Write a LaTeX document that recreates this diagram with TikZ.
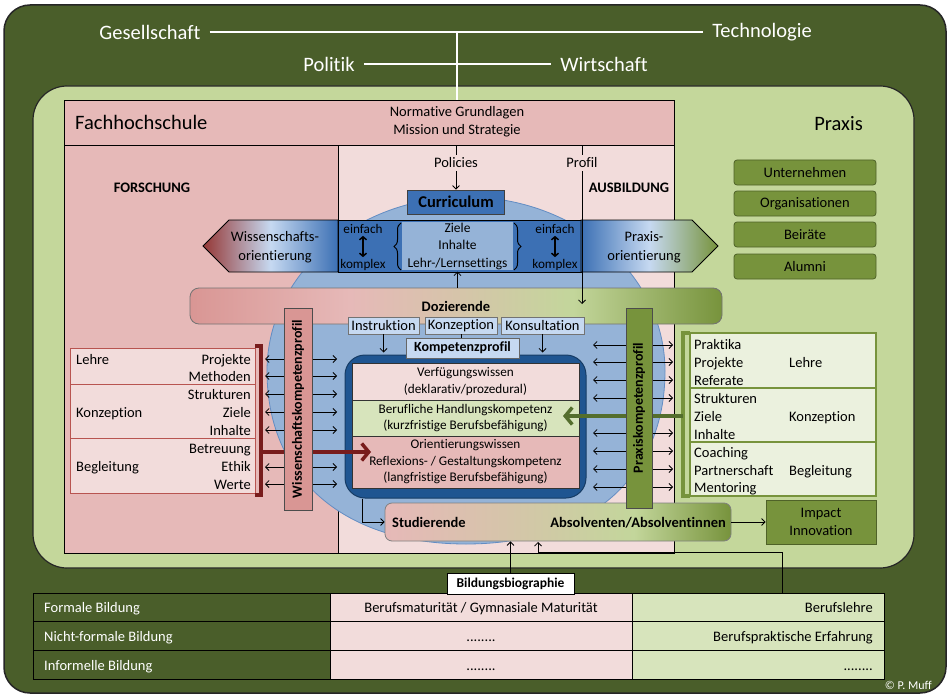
\documentclass[tikz,border=0pt]{standalone}
\usepackage{fontspec}
\setmainfont{Carlito}[Ligatures=NoCommon]
\usetikzlibrary{arrows.meta,decorations.pathreplacing,shadings}

\definecolor{bgdark}{RGB}{74,94,42}
\definecolor{bgpraxis}{RGB}{196,215,155}
\definecolor{rosa}{RGB}{230,185,184}
\definecolor{rosalt}{RGB}{242,220,219}
\definecolor{rosadk}{RGB}{217,150,148}
\definecolor{weinrot}{RGB}{149,55,53}
\definecolor{arrowred}{RGB}{120,28,28}
\definecolor{tablered}{RGB}{184,84,80}
\definecolor{blault}{RGB}{149,179,215}
\definecolor{blauxl}{RGB}{198,217,241}
\definecolor{blaum}{RGB}{60,112,180}
\definecolor{blaudk}{RGB}{31,85,145}
\definecolor{gruenm}{RGB}{119,147,60}
\definecolor{gruendk}{RGB}{79,98,40}
\definecolor{gruenarrow}{RGB}{84,110,45}
\definecolor{gruenl}{RGB}{215,228,188}
\definecolor{gruenxl}{RGB}{235,241,222}
\definecolor{gruens}{RGB}{195,214,155}
\definecolor{sand}{RGB}{214,196,170}

% colour runs of the two long bars (stops between 25bp and 75bp cover the bar)
\pgfdeclarehorizontalshading{dozshade}{100bp}{color(0bp)=(rosadk); color(25bp)=(rosadk); color(40bp)=(rosa); color(50bp)=(sand); color(61bp)=(gruens); color(75bp)=(gruenm); color(100bp)=(gruenm)}
\pgfdeclarehorizontalshading{studshade}{100bp}{color(0bp)=(rosa); color(25bp)=(rosa); color(42bp)=(sand); color(61bp)=(gruens); color(75bp)=(gruenm); color(100bp)=(gruenm)}

\newcommand\fsA{\fontsize{14.5}{18}\selectfont}
\newcommand\fsB{\fontsize{13.2}{16.5}\selectfont}
\newcommand\fsL{\fontsize{20.5}{24}\selectfont}
\newcommand\fsS{\fontsize{12}{14}\selectfont}

\begin{document}
\begin{tikzpicture}[x=1pt,y=-1pt,
  lbl/.style={inner sep=0pt, font=\fsA},
  lblb/.style={inner sep=0pt, font=\fsA\bfseries},
  big/.style={inner sep=0pt, font=\fsL},
  toplbl/.style={inner xsep=9pt, inner ysep=0pt, font=\fsL, text=white},
  frame/.style={draw=black, line width=0.9pt, inner sep=0pt},
  arr/.style={-{Straight Barb[length=3.5pt,width=7pt]}, line width=0.8pt},
  dbl/.style={{Straight Barb[length=3.5pt,width=7pt]}-{Straight Barb[length=3.5pt,width=7pt]}, line width=0.8pt},
  updown/.style={{Straight Barb[length=3pt,width=7pt]}-{Straight Barb[length=3pt,width=7pt]}, line width=1.5pt},
  curly/.style={decorate, decoration={brace, amplitude=7pt}, line width=1pt},
  ibox/.style={draw=black!55, line width=0.7pt, fill=blauxl, minimum height=17, inner sep=0pt, font=\fsA},
  kompzeile/.style={draw=black!80, line width=0.9pt, minimum width=227, inner sep=0pt, align=center, font=\fsB},
  ltab/.style={draw=tablered, fill=rosalt, line width=1pt, minimum width=185, inner sep=0pt},
  rtab/.style={draw=gruenm, fill=gruenxl, line width=1.2pt, minimum width=186, inner sep=0pt},
  praxisbox/.style={draw=gruendk, fill=gruenm, rounded corners=3pt, line width=0.8pt, minimum width=142, minimum height=25, inner sep=0pt, font=\fsA},
  profilbar/.style={rotate=90, draw=black!70, line width=0.8pt, inner sep=0pt, font=\fontsize{14}{17}\selectfont\bfseries},
  thickarrow/.style={line width=3.5pt, -{Straight Barb[length=7pt,width=17pt]}},
  cell/.style={draw=black, line width=1pt, inner sep=0pt, font=\fsA},
]
\useasboundingbox (0,0) rectangle (949,695);
\fill[white] (0,0) rectangle (949,695);

% outer frame: society and economy
\draw[fill=bgdark, draw=black!85, line width=1.5pt, rounded corners=26pt] (4,5) rectangle (946,693);
\node[toplbl] (ges) at (150,32) {Gesellschaft};
\node[toplbl] (tech) at (762,32) {Technologie};
\node[toplbl] (pol) at (329,64) {Politik};
\node[toplbl] (wirt) at (604,64) {Wirtschaft};
\draw[white, line width=1.2pt] (ges) -- (tech);
\draw[white, line width=1.2pt] (pol) -- (wirt);
\coordinate (hub) at (457,32);

% practice field
\draw[fill=bgpraxis, draw=black!85, line width=1.2pt, rounded corners=34pt] (33,86) rectangle (914,568);

% university
\node[frame, fill=rosa, anchor=north west, minimum width=610, minimum height=45] (fhhead) at (64,100) {};
\node[frame, fill=rosa, anchor=north west, minimum width=274, minimum height=408] (forsch) at (64,145) {};
\node[frame, fill=rosalt, anchor=north west, minimum width=336, minimum height=408] (ausb) at (338,145) {};
\draw[white, line width=1.2pt] (hub) -- (hub |- fhhead.north);

\node[big, anchor=west] (fh) at (75,122) {Fachhochschule};
\node[lbl, align=center] (norm) at (457,122) {Normative Grundlagen\\Mission und Strategie};
\node[lblb] (forschtxt) at (152,188) {FORSCHUNG};
\node[lblb] (ausbtxt) at (629,188) {AUSBILDUNG};
\node[lbl, inner sep=3pt] (policies) at (456,163) {Policies};
\node[lbl, inner sep=3pt] (profil) at (582,163) {Profil};
\draw[line width=0.8pt] (fhhead.south -| policies) -- (policies.north);
\draw[line width=0.8pt] (fhhead.south -| profil) -- (profil.north);

% teaching sphere: round top, flatter bottom
\draw[fill=blault, draw=blaum!80, line width=0.8pt]
  (267,371) .. controls (267,275) and (356,197) .. (466,197)
            .. controls (576,197) and (665,275) .. (665,371)
            .. controls (665,478) and (588,544) .. (466,544)
            .. controls (344,544) and (267,478) .. (267,371) -- cycle;

\node[draw=black!75, line width=0.8pt, fill=blaum, minimum width=97, minimum height=24, inner sep=0pt,
      font=\fontsize{16.5}{20}\selectfont\bfseries] (curr) at (456,202) {Curriculum};
\draw[arr] (policies) -- (curr);

% orientation banner
\shadedraw[left color=weinrot, right color=blaum, middle color=blauxl, draw=black, line width=0.9pt]
  (338,220) -- (229,220) -- (203,246) -- (229,272) -- (338,272) -- cycle;
\node[lbl, align=center, font=\fontsize{14.5}{19}\selectfont] (wo) at (275,247) {Wissenschafts-\\orientierung};
\draw[fill=blaum, draw=black, line width=0.9pt] (338,220) rectangle (581,272);
\node[fill=blault, minimum width=111, minimum height=48, inner sep=0pt, align=center,
      font=\fontsize{13.5}{17.5}\selectfont] (zil) at (457.5,246) {Ziele\\Inhalte\\Lehr-/Lernsettings};
\draw[curly] (401,270) -- (401,223);
\draw[curly] (514,223) -- (514,270);
\node[font=\fsB, inner sep=2pt] (ef1) at (363,229) {einfach};
\node[font=\fsB, inner sep=2pt] (ko1) at (363,265) {komplex};
\draw[updown] (ef1) -- (ko1);
\node[font=\fsB, inner sep=2pt] (ef2) at (555,229) {einfach};
\node[font=\fsB, inner sep=2pt] (ko2) at (555,265) {komplex};
\draw[updown] (ef2) -- (ko2);
\shadedraw[left color=blaum, right color=gruenm, middle color=blauxl, draw=black, line width=0.9pt]
  (581,220) -- (692,220) -- (718,246) -- (692,272) -- (581,272) -- cycle;
\node[lbl, align=center, font=\fontsize{14.5}{19}\selectfont] (po) at (644,247) {Praxis-\\orientierung};

% lecturers
\node[shading=dozshade, shade, draw=black!55, line width=0.8pt, rounded corners=9pt, minimum width=532,
      minimum height=36, inner sep=0pt, font=\fsA\bfseries] (doz) at (456,306) {Dozierende};
\draw[arr] (doz.north -| zil.south) -- ++(0,-16);
\coordinate (profend) at (582,304);
\draw[arr] (profil.south) -- (profend);

\node[ibox, minimum width=71] (instr) at (383.5,325.5) {Instruktion};
\node[ibox, minimum width=72] (konz) at (461,325.5) {Konzeption};
\node[ibox, minimum width=83] (kons) at (542.5,325.5) {Konsultation};

% competence profile
\node[draw=blaudk!70!black, fill=blaudk, line width=1pt, rounded corners=20pt, minimum width=241,
      minimum height=143, inner sep=0pt] (komp) at (465.5,426.5) {};
\node[kompzeile, fill=rosalt, minimum height=37] (r1) at (465.5,381.5) {Verfügungswissen\\(deklarativ/prozedural)};
\node[kompzeile, fill=gruenl, minimum height=36] (r2) at (465.5,418) {Berufliche Handlungskompetenz\\(kurzfristige Berufsbefähigung)};
\node[kompzeile, fill=rosa, minimum height=52] (r3) at (465.5,462) {Orientierungswissen\\Reflexions- / Gestaltungskompetenz\\(langfristige Berufsbefähigung)};
\node[draw=black!60, fill=blauxl, line width=0.7pt, minimum width=113, minimum height=20, inner sep=0pt,
      font=\fontsize{14}{17}\selectfont\bfseries] (kprof) at (462.5,348) {Kompetenzprofil};
\draw[arr, shorten >=2pt] (instr.south) -- (instr.south |- komp.north);
\draw[line width=0.8pt] (konz.south) -- (konz.south |- kprof.north);
\draw[arr, shorten >=2pt] (kons.south) -- (kons.south |- komp.north);

% exchange arrows on both sides
\foreach \yy in {359,376,394,412,430,467,484} \draw[dbl] (265,\yy) -- (337,\yy);
\foreach \yy in {345,362,380,398,433,451,469,487} \draw[dbl] (593,\yy) -- (673,\yy);

% students and graduates
\node[shading=studshade, shade, draw=black!50, line width=0.8pt, rounded corners=7pt, minimum width=346,
      minimum height=38, inner sep=0pt] (stud) at (558,522) {};
\node[lblb, anchor=base west] (studtxt) at (392,527) {Studierende};
\node[lblb, anchor=base east] (absol) at (726,527) {Absolventen/Absolventinnen};
\draw[arr] ([xshift=18pt]komp.south west) |- (stud.west);
\node[draw=gruendk, fill=gruenm, line width=0.8pt, minimum width=110, minimum height=44, inner sep=0pt,
      align=center, font=\fsA] (impact) at (821,522) {Impact\\Innovation};
\draw[arr] (stud.east) -- (impact.west);

% research side table
\node[ltab, minimum height=36] (lt1) at (162.5,366) {};
\node[ltab, minimum height=54] (lt2) at (162.5,411) {};
\node[ltab, minimum height=55] (lt3) at (162.5,465.5) {};
\node[lbl, anchor=base west] (lehreL) at (76,364) {Lehre};
\node[lbl, anchor=base west] (konzL) at (76,417) {Konzeption};
\node[lbl, anchor=base west] (begL) at (76,471) {Begleitung};
\node[lbl, anchor=base east] (l1) at (251,364) {Projekte};
\node[lbl, anchor=base east] (l2) at (251,381) {Methoden};
\node[lbl, anchor=base east] (l3) at (251,399) {Strukturen};
\node[lbl, anchor=base east] (l4) at (251,417) {Ziele};
\node[lbl, anchor=base east] (l5) at (251,435) {Inhalte};
\node[lbl, anchor=base east] (l6) at (251,453) {Betreuung};
\node[lbl, anchor=base east] (l7) at (251,471) {Ethik};
\node[lbl, anchor=base east] (l8) at (251,489) {Werte};
\draw[arrowred, line width=3.5pt] (255,346) -- (261,346) -- (261,495) -- (255,495);
\coordinate (lbr) at (261,452);
\coordinate (ltip) at (371,452);
\draw[arrowred, thickarrow] (lbr) -- (ltip);

% practice side table
\node[rtab, minimum height=55] (rt1) at (783,360.5) {};
\node[rtab, minimum height=54] (rt2) at (783,415) {};
\node[rtab, minimum height=54] (rt3) at (783,469) {};
\node[lbl, anchor=base west] (p1) at (694,349) {Praktika};
\node[lbl, anchor=base west] (p2) at (694,367) {Projekte};
\node[lbl, anchor=base west] (p3) at (694,385) {Referate};
\node[lbl, anchor=base west] (p4) at (694,403) {Strukturen};
\node[lbl, anchor=base west] (p5) at (694,421) {Ziele};
\node[lbl, anchor=base west] (p6) at (694,439) {Inhalte};
\node[lbl, anchor=base west] (p7) at (694,457) {Coaching};
\node[lbl, anchor=base west] (p8) at (694,475) {Partnerschaft};
\node[lbl, anchor=base west] (p9) at (694,492) {Mentoring};
\node[lbl, anchor=base west] (lehreR) at (789,367) {Lehre};
\node[lbl, anchor=base west] (konzR) at (789,421) {Konzeption};
\node[lbl, anchor=base west] (begR) at (789,475) {Begleitung};
\draw[gruenm, line width=3.5pt] (690,333) -- (683,333) -- (683,496) -- (690,496);
\coordinate (rbr) at (683,416);
\coordinate (rtip) at (563,416);
\draw[gruenarrow, thickarrow] (rbr) -- (rtip);

% profile bars
\node[profilbar, fill=rosadk, minimum width=202, minimum height=28] (wkp) at (298,409) {Wissenschaftskompetenzprofil};
\node[profilbar, fill=gruenm, minimum width=200, minimum height=26] (pkp) at (639,408) {Praxiskompetenzprofil};

% practice partners
\node[big, anchor=east] (praxis) at (863,124) {Praxis};
\node[praxisbox] (unt) at (805,172.5) {Unternehmen};
\node[praxisbox] (org) at (805,203.5) {Organisationen};
\node[praxisbox] (bei) at (805,234.5) {Beiräte};
\node[praxisbox] (alu) at (805,266.5) {Alumni};

% educational background
\node[cell, fill=bgdark, minimum width=297, minimum height=28] (c11) at (181.5,607) {};
\node[cell, fill=rosalt, minimum width=302, minimum height=28] (c12) at (481,607) {};
\node[cell, fill=gruenl, minimum width=252, minimum height=28] (c13) at (758,607) {};
\node[cell, fill=bgdark, minimum width=297, minimum height=29] (c21) at (181.5,635.5) {};
\node[cell, fill=rosalt, minimum width=302, minimum height=29] (c22) at (481,635.5) {};
\node[cell, fill=gruenl, minimum width=252, minimum height=29] (c23) at (758,635.5) {};
\node[cell, fill=bgdark, minimum width=297, minimum height=29] (c31) at (181.5,664.5) {};
\node[cell, fill=rosalt, minimum width=302, minimum height=29] (c32) at (481,664.5) {};
\node[cell, fill=gruenl, minimum width=252, minimum height=29] (c33) at (758,664.5) {};
\node[lbl, text=white, anchor=base west] at (44,612) {Formale Bildung};
\node[lbl, text=white, anchor=base west] at (44,641) {Nicht-formale Bildung};
\node[lbl, text=white, anchor=base west] at (44,670) {Informelle Bildung};
\node[lbl, anchor=base] at (481,612) {Berufsmaturität / Gymnasiale Maturität};
\node[lbl, anchor=base] at (481,641) {........};
\node[lbl, anchor=base] at (481,670) {........};
\node[lbl, anchor=base east] at (873,612) {Berufslehre};
\node[lbl, anchor=base east] at (873,641) {Berufspraktische Erfahrung};
\node[lbl, anchor=base east] at (873,670) {........};

\node[draw=black, fill=white, line width=0.8pt, minimum width=127, minimum height=21, inner sep=0pt,
      font=\fontsize{13.5}{16}\selectfont\bfseries] (bild) at (510.5,583.5) {Bildungsbiographie};
\draw[arr] (bild.north) -- (bild.north |- stud.south);
\coordinate (bend) at (782,552);
\coordinate (absin) at (538,542);
\draw[arr] (c13.north -| bend) -- (bend) -- (bend -| absin) -- (absin);

\node[font=\fsS, text=white, anchor=base east, inner sep=0pt] (copy) at (932,689) {© P.~Muff};
\end{tikzpicture}
\end{document}
